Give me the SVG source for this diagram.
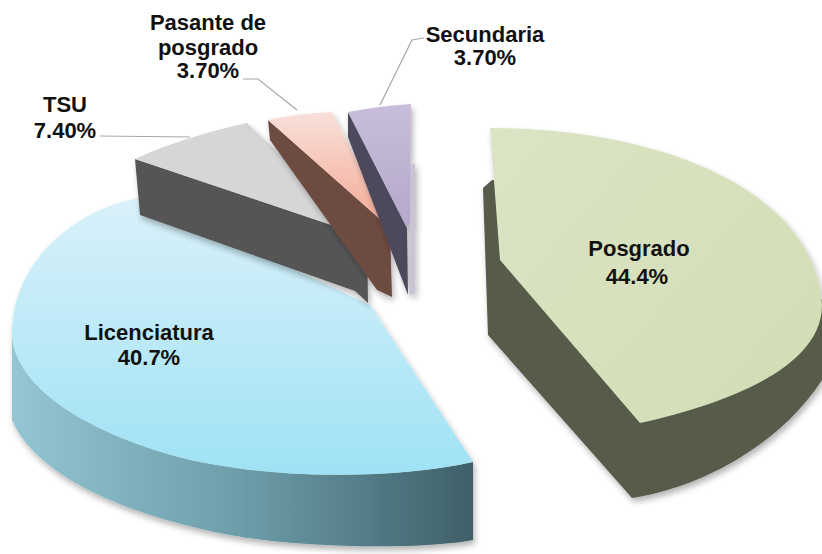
<svg xmlns="http://www.w3.org/2000/svg" width="822" height="554" viewBox="0 0 822 554">
<defs>
<style>
.lbl{font-family:"Liberation Sans",Arial,sans-serif;font-weight:bold;font-size:22px;fill:#111;text-anchor:middle}
.lead{fill:none;stroke:#a6a6a6;stroke-width:1.2}
</style>
<filter id="sh" x="-10%" y="-10%" width="130%" height="130%">
<feGaussianBlur in="SourceAlpha" stdDeviation="3"/>
<feOffset dx="2" dy="4" result="b"/>
<feComponentTransfer><feFuncA type="linear" slope="0.3"/></feComponentTransfer>
<feMerge><feMergeNode/><feMergeNode in="SourceGraphic"/></feMerge>
</filter>
<linearGradient id="licTop" x1="0" y1="200" x2="0" y2="475" gradientUnits="userSpaceOnUse">
<stop offset="0" stop-color="#d9f1fa"/><stop offset="1" stop-color="#9fe2f5"/>
</linearGradient>
<linearGradient id="licSide" x1="10" y1="0" x2="473" y2="0" gradientUnits="userSpaceOnUse">
<stop offset="0" stop-color="#94c6d3"/><stop offset="0.5" stop-color="#6c9da9"/><stop offset="1" stop-color="#3e5f68"/>
</linearGradient>
<linearGradient id="posTop" x1="490" y1="128" x2="822" y2="420" gradientUnits="userSpaceOnUse">
<stop offset="0" stop-color="#dbe4c4"/><stop offset="1" stop-color="#d2ddb5"/>
</linearGradient>
<linearGradient id="pinkTop" x1="0" y1="112" x2="0" y2="228" gradientUnits="userSpaceOnUse">
<stop offset="0" stop-color="#f8e0da"/><stop offset="1" stop-color="#f4a894"/>
</linearGradient>
<linearGradient id="purTop" x1="0" y1="104" x2="0" y2="228" gradientUnits="userSpaceOnUse">
<stop offset="0" stop-color="#c8bddb"/><stop offset="1" stop-color="#b5a8c9"/>
</linearGradient>
</defs>
<rect width="822" height="554" fill="#ffffff"/>

<g id="slice-posgrado" filter="url(#sh)">
<path d="M 492,180 L 483,188 L 488,335 L 632,498 C 700,488 780,445 822,380 L 822,300 L 700,200 Z" fill="#575b48"/>
<path d="M 500,260 L 490,128 C 660,128 815,190 822,305 C 822,370 720,405 640,423 Z" fill="url(#posTop)"/>
</g>

<g id="slice-licenciatura" filter="url(#sh)">
<path d="M 12,330 C 10,390 100,440 200,462 C 290,480 400,478 473,462 L 473,540 C 420,550 300,548 230,535 C 150,520 40,485 12,420 Z" fill="url(#licSide)"/>
<path d="M 370,305 L 140,198 C 90,205 15,250 12,330 C 10,390 100,440 200,462 C 290,480 400,478 473,462 Z" fill="url(#licTop)"/>
</g>

<g id="slice-tsu" filter="url(#sh)">
<path d="M 135,159 L 367,237 L 368,303 L 355,291 L 140,215 Z" fill="#555555"/>
<path d="M 367,237 L 135,159 Q 180,138 247,123 Z" fill="#d6d6d6"/>
</g>

<g id="slice-pasante" filter="url(#sh)">
<path d="M 268,120 L 390,228 L 392,297 L 377,290 L 270,140 Z" fill="#6e4b3f"/>
<path d="M 390,228 L 268,120 Q 300,113 332,112 Z" fill="url(#pinkTop)"/>
</g>

<g id="slice-secundaria" filter="url(#sh)">
<path d="M 410,165 L 415,163 L 415,293 L 410,295 Z" fill="#c9c3d3"/>
<path d="M 348,112 L 407,228 L 408,295 L 348,137 Z" fill="#4e4a5c"/>
<path d="M 348,112 Q 380,106 411,104 L 410,224 L 407,228 Z" fill="url(#purTop)"/>
</g>

<g id="connectors">
<path class="lead" d="M 100,136 L 190,137"/>
<path class="lead" d="M 243,79 L 258,79 L 297,110"/>
<path class="lead" d="M 380,105 L 412,40 L 424,38"/>
</g>

<g id="label-posgrado"><text class="lbl" x="639" y="256">Posgrado</text><text class="lbl" x="637" y="284">44.4%</text></g>
<g id="label-licenciatura"><text class="lbl" x="149" y="340">Licenciatura</text><text class="lbl" x="149" y="365">40.7%</text></g>
<g id="label-tsu"><text class="lbl" x="65" y="112">TSU</text><text class="lbl" x="65" y="138">7.40%</text></g>
<g id="label-pasante"><text class="lbl" x="208" y="30">Pasante de</text><text class="lbl" x="208" y="55">posgrado</text><text class="lbl" x="208" y="78">3.70%</text></g>
<g id="label-secundaria"><text class="lbl" x="485" y="42">Secundaria</text><text class="lbl" x="485" y="65">3.70%</text></g>
</svg>
